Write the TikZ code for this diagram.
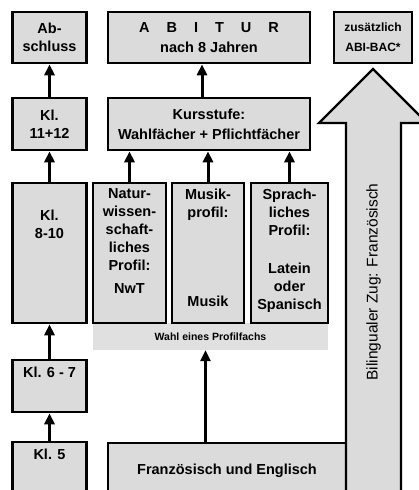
\documentclass[tikz,border=0pt]{standalone}
\usepackage{fontspec}
\setmainfont{Liberation Sans}
\usetikzlibrary{arrows.meta, positioning}

\begin{document}
\begin{tikzpicture}[x=1pt, y=-1pt,
  box/.style={draw, line width=2.6pt, fill=black!14, minimum width=74pt, inner sep=0pt, align=center, font=\bfseries\fontsize{14.5}{18}\selectfont},
  txt/.style={inner sep=0pt, align=center, font=\bfseries\fontsize{14.5}{17.8}\selectfont},
  arr/.style={line width=3pt, -{Triangle[width=10pt, length=11pt]}}
]
\useasboundingbox (0,0) rectangle (419,490);
\clip (0,0) rectangle (419,490);

% top row
\node[box, minimum height=51pt] at (49.5,37.5) (absch) {Ab-\\schluss};
\node[box, minimum width=202pt, minimum height=51pt, font=\bfseries\fontsize{14.5}{20}\selectfont] at (209,37.5) (abitur) {A\hspace{17pt}B\hspace{17pt}I\hspace{17pt}T\hspace{17pt}U\hspace{17pt}R\\nach 8 Jahren};
\node[box, minimum width=78pt, minimum height=51pt, font=\bfseries\fontsize{12}{20}\selectfont] at (373,37.5) (bac) {zusätzlich\\ABI-BAC*};

\node[box, minimum height=52pt] at (49.5,124) (kl1112) {Kl.\\11+12};
\node[box, minimum width=202pt, minimum height=52pt, font=\bfseries\fontsize{14.5}{20}\selectfont] at (209,124) (kurs) {Kursstufe:\\Wahlfächer + Pflichtfächer};

% profile
\node[fill=black!12, minimum width=235pt, minimum height=27pt, inner sep=0pt, font=\bfseries\fontsize{10.5}{12}\selectfont] at (210.5,336.5) (wahl) {Wahl eines Profilfachs};

\node[box, minimum height=140pt] at (49.5,253) (kl810) {};
\node[box, minimum width=73pt, minimum height=140pt] at (129.5,253) (nwt) {};
\node[box, minimum width=72pt, minimum height=140pt] at (208,253) (musik) {};
\node[box, minimum width=77pt, minimum height=140pt] at (289.5,253) (sprach) {};

\node[txt, below=28pt of kl810.north] (kl810-t) {Kl.\\8-10};
\node[txt, below=7pt of nwt.north] (nwt-t) {Natur-\\wissen-\\schaft-\\liches\\Profil:\\[6pt]NwT};
\node[txt, below=7pt of musik.north] (musik-t) {Musik-\\profil:};
\node[txt, above=17pt of musik.south] (musik-b) {Musik};
\node[txt, below=7pt of sprach.north] (sprach-t) {Sprach-\\liches\\Profil:\\[21pt]Latein\\oder\\Spanisch};

% lower
\node[box, minimum height=52pt] at (49.5,386) (kl67) {};
\node[txt, below=8pt of kl67.north] (kl67-t) {Kl. 6 - 7};
\node[box, minimum height=68pt] at (49.5,476) (kl5) {};
\node[txt, below=8pt of kl5.north] (kl5-t) {Kl. 5};
\node[box, minimum width=238pt, minimum height=67pt] at (227,476.5) (franz) {};
\node[txt, below=22pt of franz.north] (franz-t) {Französisch und Englisch};

% big arrow
\coordinate (tip) at (373,69);
\draw[line width=2.3pt, fill=black!14, line join=miter] (346,520) -- (346,123) -- (319,123) -- (tip) -- (427,123) -- (401,123) -- (401,520) -- cycle;
\node[rotate=90, inner sep=0pt, font=\fontsize{15.5}{18}\selectfont] at (373.5,282) (biling) {Bilingualer Zug: Französisch};

% arrows
\draw[arr] (kl1112) -- (absch);
\draw[arr] ([xshift=-7pt]kurs.north) -- ([xshift=-7pt]abitur.south);
\draw[arr] (kl810) -- (kl1112);
\draw[arr] (nwt.north) -- (nwt.north |- kurs.south);
\draw[arr] (musik.north) -- (musik.north |- kurs.south);
\draw[arr] (sprach.north) -- (sprach.north |- kurs.south);
\draw[arr] (kl67) -- (kl810);
\draw[arr] (kl5) -- (kl67);
\draw[arr] ([xshift=-5pt]wahl.south |- franz.north) -- ([xshift=-5pt]wahl.south);
\end{tikzpicture}
\end{document}
